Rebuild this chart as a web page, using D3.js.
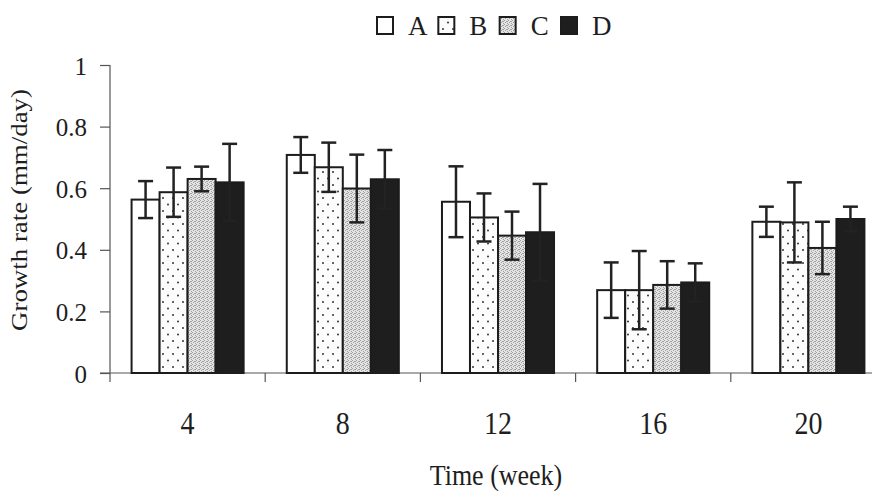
<!DOCTYPE html>
<html>
<head>
<meta charset="utf-8">
<script src="https://cdn.jsdelivr.net/npm/d3@7"></script>
<style>
  html, body { margin: 0; padding: 0; background: #ffffff; }
  svg { display: block; }
  text { font-family: "Liberation Serif", "Times New Roman", serif; fill: #1e1e1e; }
</style>
</head>
<body>
<svg id="chart" width="872" height="497"></svg>
<script>
// Weeks on the x axis
const categories = ["4", "8", "12", "16", "20"];
// Treatment groups
const seriesNames = ["A", "B", "C", "D"];
// Mean growth rate (mm/day) per treatment, one value per week
const valuesA = [0.563, 0.708, 0.556, 0.269, 0.491];
const valuesB = [0.587, 0.668, 0.505, 0.269, 0.489];
const valuesC = [0.630, 0.599, 0.446, 0.286, 0.406];
const valuesD = [0.619, 0.629, 0.457, 0.294, 0.500];
// Error bar half-widths (mm/day)
const errorsA = [0.060, 0.058, 0.115, 0.090, 0.049];
const errorsB = [0.080, 0.080, 0.078, 0.127, 0.130];
const errorsC = [0.040, 0.110, 0.078, 0.077, 0.085];
const errorsD = [0.125, 0.095, 0.157, 0.062, 0.040];
// Y axis tick values and labels
const yTicks = [0, 0.2, 0.4, 0.6, 0.8, 1];
const yTickLabels = ["0", "0.2", "0.4", "0.6", "0.8", "1"];

const seriesValues = [valuesA, valuesB, valuesC, valuesD];
const seriesErrors = [errorsA, errorsB, errorsC, errorsD];

const rows = [];
categories.forEach((cat, i) => {
  seriesNames.forEach((s, j) => {
    rows.push({ cat, series: s, value: seriesValues[j][i], err: seriesErrors[j][i] });
  });
});

const svg = d3.select("#chart");
const ink = "#1c1c1c";
const axisInk = "#555";
const stretch = 1.15;   // glyphs are drawn slightly taller than wide

// Fill patterns for the four treatments
const defs = svg.append("defs");
const dots = defs.append("pattern").attr("id", "dots")
  .attr("patternUnits", "userSpaceOnUse").attr("width", 10).attr("height", 13);
dots.append("rect").attr("width", 10).attr("height", 13).attr("fill", "#fcfcfc");
dots.append("circle").attr("cx", 3).attr("cy", 3).attr("r", 1).attr("fill", "#333");
dots.append("circle").attr("cx", 8).attr("cy", 9.5).attr("r", 1).attr("fill", "#333");

const stipple = defs.append("pattern").attr("id", "stipple")
  .attr("patternUnits", "userSpaceOnUse").attr("width", 4).attr("height", 4);
stipple.append("rect").attr("width", 4).attr("height", 4).attr("fill", "#e4e4e4");
[[0, 0], [2, 1], [1, 2], [3, 3], [3, 1]].forEach(([x, y]) => {
  stipple.append("rect").attr("x", x).attr("y", y).attr("width", 1).attr("height", 1).attr("fill", "#a0a0a0");
});

const fills = { A: "#ffffff", B: "url(#dots)", C: "url(#stipple)", D: "#1e1e1e" };

// Scales
const x0 = d3.scaleBand().domain(categories).range([110, 886])
  .paddingInner(0.278).paddingOuter(0.139);
const x1 = d3.scaleBand().domain(seriesNames).range([0, x0.bandwidth()]).padding(0);
const y = d3.scaleLinear().domain([0, 1]).range([373, 65]);

// Y axis
const yAxis = svg.append("g").attr("transform", "translate(110,0)")
  .call(d3.axisLeft(y).tickValues(yTicks).tickSize(10).tickSizeOuter(0)
    .tickFormat((d, i) => yTickLabels[i]));
yAxis.select(".domain").remove();
yAxis.selectAll(".tick line").attr("stroke", axisInk).attr("stroke-width", 1.2);
yAxis.selectAll(".tick text")
  .attr("x", null).attr("dy", null)
  .attr("text-anchor", "end")
  .attr("font-size", 25)
  .attr("transform", "translate(-23,9)");
svg.append("line").attr("x1", 110).attr("x2", 110)
  .attr("y1", y(1)).attr("y2", y(0) + 9)
  .attr("stroke", axisInk).attr("stroke-width", 1.2);

// X axis: baseline with ticks at group boundaries
svg.append("line").attr("x1", 100).attr("x2", 886)
  .attr("y1", y(0)).attr("y2", y(0))
  .attr("stroke", axisInk).attr("stroke-width", 1.2);
const step = x0.step();
svg.append("g").selectAll("line").data(categories.slice(1)).join("line")
  .attr("x1", d => x0(d) - (step - x0.bandwidth()) / 2)
  .attr("x2", d => x0(d) - (step - x0.bandwidth()) / 2)
  .attr("y1", y(0)).attr("y2", y(0) + 9)
  .attr("stroke", axisInk).attr("stroke-width", 1.2);
svg.append("g").selectAll("text").data(categories).join("text")
  .attr("text-anchor", "middle")
  .attr("font-size", 28)
  .attr("transform", d => "translate(" + (x0(d) + x0.bandwidth() / 2) + ",434) scale(1," + stretch + ")")
  .text(d => d);

// Bars
const bars = svg.append("g");
bars.selectAll("rect").data(rows).join("rect")
  .attr("x", d => x0(d.cat) + x1(d.series))
  .attr("y", d => y(d.value))
  .attr("width", x1.bandwidth())
  .attr("height", d => y(0) - y(d.value))
  .attr("fill", d => fills[d.series])
  .attr("stroke", ink).attr("stroke-width", 2);

// Error bars
const capHalf = 7.5;
const eb = svg.append("g").attr("stroke", "#222").attr("stroke-width", 2.5);
rows.forEach(d => {
  const cx = x0(d.cat) + x1(d.series) + x1.bandwidth() / 2;
  const hi = y(d.value + d.err), lo = y(d.value - d.err);
  eb.append("line").attr("x1", cx).attr("x2", cx).attr("y1", hi).attr("y2", lo);
  eb.append("line").attr("x1", cx - capHalf).attr("x2", cx + capHalf).attr("y1", hi).attr("y2", hi);
  eb.append("line").attr("x1", cx - capHalf).attr("x2", cx + capHalf).attr("y1", lo).attr("y2", lo);
});

// Axis titles
svg.append("text")
  .attr("text-anchor", "middle")
  .attr("font-size", 26)
  .attr("transform", "translate(496,485) scale(1," + stretch + ")")
  .text("Time (week)");
svg.append("text")
  .attr("text-anchor", "middle")
  .attr("font-size", 23)
  .attr("transform", "translate(27,210) rotate(-90) scale(1.17,1)")
  .text("Growth rate (mm/day)");

// Legend
const legend = svg.append("g");
const legendX = d3.scalePoint().domain(seriesNames).range([377, 561]);
seriesNames.forEach(s => {
  legend.append("rect")
    .attr("x", legendX(s)).attr("y", 17).attr("width", 16).attr("height", 17)
    .attr("fill", fills[s]).attr("stroke", ink).attr("stroke-width", 2);
  legend.append("text")
    .attr("font-size", 27)
    .attr("transform", "translate(" + (legendX(s) + 31) + ",35) scale(1,1.05)")
    .text(s);
});
</script>
</body>
</html>
